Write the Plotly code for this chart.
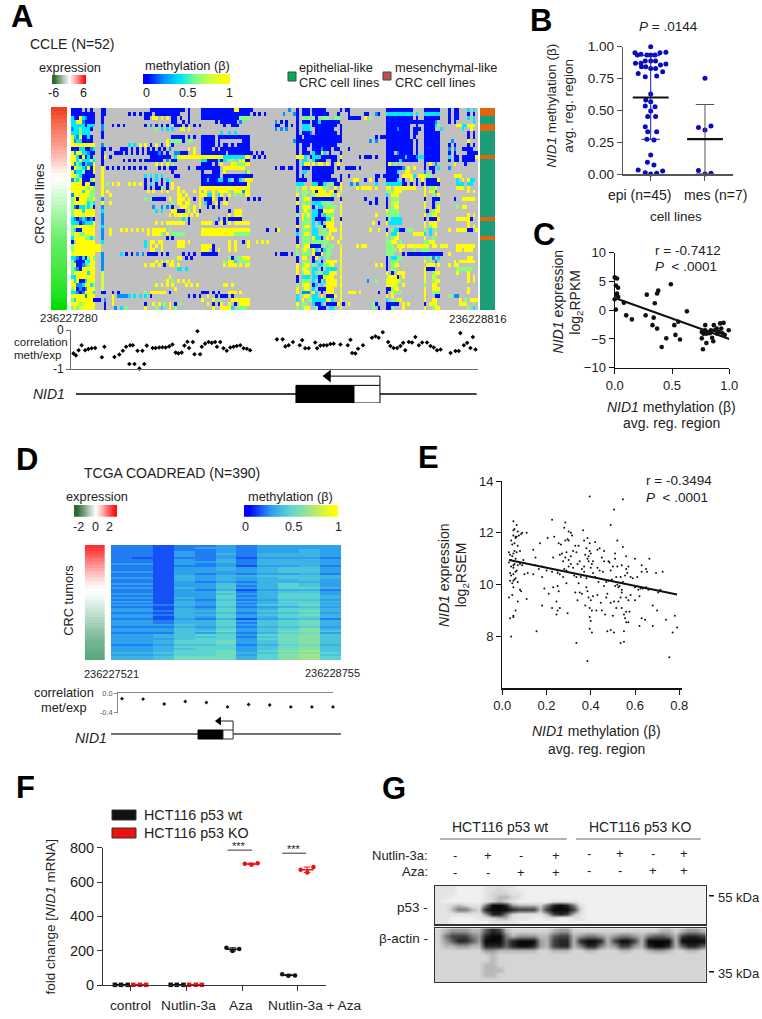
import re
import plotly.graph_objects as go

PAGE_MARGIN = 0
W, H = 762, 1019
FONT = "Liberation Sans"

# ---------- Panel A data ----------
A_LEFT = ["bbbb.b.b.","bbbbbbbbb","cbbycsbbb","ccyysbbbb","cccccbccc","sccgcccb.","cccgccc..","ycsybbcb.","ysccbbbb.","yyyyyyyyy",
"bbbccbbsc","ysyyccsbb","yycbybcbg","yycycccgc","ysgcbcssy","byggcsyby","ysccgbbby","yygcbbbbb","sgcybbbgy","yyyybyybb",
"yyyyyygyg","yyyycyygg","syyyyylgg","gybyyyggy","gyyyyycgc","gsbccgcgb","gyyycyyyy","gyyyyyyyy","csbscsbsb","cccbscccy",
"gyyyyyyyy","gcbbyyyyy","gyyggyyyy","cyyyyggcg","b.yyyyyyy","gyyyyyyyy","gyyyyyyyy","yyyyyyyyy","ccsbcbgyg","gsbbbgcyy",
"gybbscgyl","gcsbyyyyy","gyyyyycyy","ccyyyyyyy","ycybbcyyy","yysscyycg","gybsbsyyy","ccsbsyyyc","yyyyysyyy","gcyyyyyyb",
"yyyglyyyy","gyglyyyyl"]
A_RUNS = [
"11b2 29b13 43b1 48b12 60y2 62b5 80s1 83b1 85b3 89b5 99b1 101b2 116b10 130b6 139b1 141b2 146c1 148c1",
"11b2 21b1 23b1 25b1 27b3 31b9 43b1 48b18 67b1 69b1 71b1 78s1 82s1 83b1 85b3 89b5 94b1 98b1 102b1 108b2 112s1 113b1 116c10 127c1 130c6 139b1 141b2 146b1 148b1",
"11b1 27b2 30y2 33y1 35y1 37b2 40b1 43b1 48b14 62g4 83b1 85g3 89g1 90b1 92g3 97g2 102b5 108y1 110g1 116b10 127b1 130b6 139b1 141b2 146c1 148c1",
"11b1 37b2 41b1 43b1 53b1 55b6 62s1 75s1 77b1 79b1 83b1 85b3 89b2 91c1 92b6 98b1 116b10 126b8 134s1 139b1 141b1 148c1",
"11s1 15b1 17b1 19b1 27b1 29s1 31b1 33b1 35b1 38b3 42b1 45b1 47b1 56b1 59b2 61b1 75b2 79b1 81b1 83b1 85c3 89b5 94b4 99b1 116b9 127b1 130b5 134c1 135g1 142y2 144c2 146y3",
"11s1 31g1 33c1 35c1 37c1 40y2 43y1 75s1 77s1 79s1 83b1 85c3 90b7 99b1 116b9 120s1 126b3 130b4 136c1 144c1 147y1",
"11b1 55c1 58c1 60c1 83b1 85b3 88s1 90b8 99b1 116b9 121b1 126b2 130b6 146b1 148b1",
"11b1 37b5 43b1 45b1 48b5 54b1 55b11 83b2 86b13 99b1 112b1 114b11 126b1 130b6 146b1 148b1",
"35y1 37g4 41b1 43g2 48b5 54b1 63b3 82s1 83b2 85b1 86b14 110s1 112s1 116b10 127b1 130b4 134b2 140s1 146y1",
"11s1 21c1 23c1 25y1 27y1 29b1 31y1 33b1 35y1 37b1 48b5 54b1 56b2 59b1 61b1 62b4 83b1 85b3 89b9 116b10 127b1 130b6 139b1 141b1 146b1 148b1",
"11b2 14b1 18b1 19b2 22b1 24b1 26b1 28b1 30b1 32b1 34b1 36s1 43y1 45y1 48b4 53b1 55b11 83b1 85b2 89b1 90b2 92s1 93b3 97b2 102b1 116b10 127b1 130b6 139s1 141s1 144b4",
"11b1 16b3 20b1 22b1 24b1 26b1 28b4 32s1 33b1 35b1 38s2 40b2 42b1 45y1 48b8 56b1 58b8 66b1 68b1 70b1 83b1 85b3 89c1 90b2 92y1 93c1 95b1 99b1 116b3 120s1 121b5 127b1 130b6 139b1 141b1 146b4",
"11b1 12y1 14b1 29b1 30b3 33b2 35b1 36b1 38c1 39y8 47y1 48y8 56c8 64y2 67b1 69b1 71b1 83y3 86c1 88b1 89c3 92b6 99y1 106b1 108b3 112b1 116b7 123c1 124b2 126b1 127s1 128c2 130b6 139c1 141b2 144b5 149y1",
"11b1 19b1 21b1 23b1 25b1 27b2 29b4 33b1 35s1 37b2 48c2 50b4 54c1 55b1 56c1 58g2 62y2 64b2 83b1 85c2 88g1 89c1 90b4 96b2 99b1 116b5 121c1 122b6 130b6 139b1 141b2 144b5",
"11b1 31y1 33y1 35y1 37g1 48b4 53b1 55y1 59y2 61g3 64y2 83b1 85c1 86y2 89y1 91y1 92y1 94y1 96b1 98y1 116b1 117y1 119g1 130b1 132y1 134s1 141y1 145b1",
"11y1 13b1 15b1 17b1 19b1 21b1 23b1 25b1 27b1 32b1 34b1 36b3 43b1 46b8 54b1 56y8 75b1 77b1 78b1 80b2 83b1 85b3 89b6 95b2 98b1 101b4 106b1 116b6 122s1 124y1 126y1 130b1 132b2 135c1 139s1",
"11y1 37b1 48b1 52b3 56y1 64c1 65y1 83b1 85c2 89b8 116b4 120c1 123y2 130s1 133b1",
"11y1 27c1 29c1 31c1 33c1 38b2 48b7 56b11 83b1 85b1 89b7 99b1 102b1 112b2 115b6 122y4 126c1 128y3 131g2 141y3",
"11y1 27b1 29b1 31c1 33b1 35c1 48b2 50c1 51b3 54c2 56b2 58c1 60b2 62c1 64y1 65y2 83b2 85b2 89b4 93b5 99b1 104y2 108b1 110y1 112b1 116b4 120c1 122b1 125y1 127b1 129y1 131b2 133b2 135y1 142c1 144y1 146y1 147c2",
"11y1 13g1 15y1 17y1 21y1 23y1 25y1 27b1 29c1 31b1 33b1 35b1 37y1 48b10 58b7 65y1 83c3 89c2 91b2 93c1 95g2 97b2 99y1 103s1 105s1 112c1 116c6 122b2 125b1 127b1 129b1 131b2 133b3 142c3 146c2",
"11y1 27b1 29b1 31b2 33g1 35b1 37y1 39y1 47y1 48y8 55y8 63y3 83g1 85y2 88y1 89y4 93g2 97y1 99y1 105y1 107y4 112y1 116y2 119y8 130y1 132g2 134y1 142y3 146y1",
"11y1 13y1 28y1 30y1 33y1 35y1 39y1 41y1 45y1 47y1 49y1 52y1 54y4 58g1 60y3 63s1 64y2 83g1 85g3 89y1 90b1 91y3 95y2 97b1 99l1 116g3 119y3 130y1 132y3 134s1 146y1 148y1",
"11y1 14y1 39y2 42y1 47y2 49y1 50c2 52y1 54c1 55y1 58y1 60g1 62g1 64y2 83y1 85g2 88g2 90y6 96g1 98y1 116c1 118y3 130y1 133g1 135y1",
"11s1 27g1 29g1 30b5 36y1 39y3 43y1 45b1 47y1 49b3 52y1 54b2 57b1 65b1 67b1 69b1 83b1 85g1 86y2 89b7 96b1 99b1 108b1 112b1 116b1 118g3 130b1 133b3 141b1 144y5",
"11y1 14y1 37g1 39y2 42y2 47y1 49c1 50b2 53y2 54b1 56y2 83y1 85g3 89c3 92g4 99l1 110b1 112b1 116b1 118l3 130y1 133b1 135g1",
"11s1 30s1 33s1 35s1 37b1 40y3 43g1 45y1 47y1 50b1 52b1 54b1 83b1 85l1 86y2 89b1 91c2 94g4 99y1 116b1 118g1 119y2 130y1 133b1 135y1 142g1 144y2",
"11c1 31c1 33c1 37y1 38y1 39b3 43y1 45y1 47b1 58b1 60y3 83b1 85g1 86y1 87g1 89c2 91b2 93y4 99l1 116y1 117g2 119g2 131b1 133g1 134y2",
"11s1 36y1 38y5 44y1 46y1 58y1 60y3 83g1 85y1 86g1 87y1 89c2 91b1 93c1 94g3 99y1 112y1 116g3 119g2 130y1 132g1 133y2 146y1 148y1",
"11s1 41c1 43b1 54s1 56b1 58b5 83b1 85y1 86g2 89c1 90b4 94c2 96y1 99b1 116b1 118c4 130b1 132b3 135y1 142y5 147b1",
"11s1 31y1 33y1 35y7 43b1 48y4 53b1 55y1 56b1 58y1 60y6 83b1 85g3 89c1 91c1 92b1 94y3 99y1 111y1 113b1 116y1 117c5 130y1 132y3 134y1 146y1",
"11c1 83y1 85g1 86y2 89c1 91g2 93b1 94y3 99l1 130y1 132g1 133y2 134y1 146y1 148y1",
"11s1 14y1 18y1 20y1 22y1 24y1 26y1 28y1 30y5 36g1 48y18 72b1 75b1 76y1 83b1 85g3 89c2 92g2 95y3 99y1 110y1 113y1 116b1 118g1 119c2 121b2 124g2 130g1 132c1 134g1 139y1 142y4 146b2 149y1",
"11s1 14y1 28y1 30y3 33g1 35y1 37g2 39g3 48y12 60g6 83c1 85g1 86y2 89c2 92g3 95y1 99l1 116y1 118c2 120y1 126y5 130c1 132c1 134y1",
"11s1 35b1 37b1 83b1 85g3 89y1 90c1 91c1 92b1 94y1 96y1 99y1 116g1 118g1 119y2 130y1 133g1",
"11c1 27c1 29y2 32y2 39y3 43y1 58y1 60y1 63b1 65y1 68y1 70y1 72y1 83b1 85g3 89g3 92g3 98y1 116g2 118y2 121g1 130g2 132y2",
"9y2 27c1 29y1 31y1 33y1 39y3 48y4 52b1 58y1 60y1 65y1 83y1 85g1 86y2 88b1 89b3 93g1 95g2 99l1 105y1 107y2 116g3 120y3 124y8 133y2 136y3 142y7",
"9y2 29y2 33y1 48y3 52b1 54y1 58y1 60y1 83g1 85l1 86y1 87g1 89y1 90c1 92b1 93c1 94g2 99y1 116g4 121y1 126g1 129g3 142y2 145y3",
"11s1 18c1 20b1 22b1 24s1 26s1 28b1 29b3 33b1 35b1 41b1 43b1 45b1 48b5 53b1 75b1 77b3 81b1 83g1 85g3 89y1 90b2 92y1 94g2 99y1 116g3 122b1 124b13 139y1",
"11s1 39y2 42b1 44b1 58g2 59b1 61g2 63y3 83b1 85y2 89b1 90y1 92c1 94g1 99l1 116b1 118c2 120g2 130g1 132g1 133s1 135c1 146y2",
"11s1 31y1 33y1 35y1 37y1 56g1 58y3 60c1 62g3 65g1 83b1 85g3 89b1 90c1 92b1 94y4 99y1 116b1 118g3 130y1 132g1 134s1 141y1 143y5 148y1",
"11s1 27y1 29y2 32y1 34b1 36y2 39y1 56y1 58y3 62y1 64y2 83y1 85g1 86y2 89g1 91c2 93g2 95y2 99l1 112y1 114y1 116b1 118g1 119y2 131y3 135y1 139y1 141y2",
"11s1 39c2 42c1 83y1 85l1 86y1 87g1 89c2 92b1 94c4 99y1 116b1 118g2 130y1 131b3 142g6",
"11l1 83y1 85g1 86y2 89c1 91g2 93c2 95y3 99l1 116y1 118b1 120y3 130y1 133g1 134y2 142y1 146y1",
"11l1 36y1 83b1 85c3 89c2 91b2 93y4 99y1 116g1 117y3 120b1 122y1 130y1 133y1 134g1 146y1 148y1",
"11l1 35y1 37g1 39y1 41y1 43y1 83b1 85g3 89c1 91b1 93c1 94y4 99l1 109s1 112g1 116y3 119y2 121g1 130y1 133g1 134y2 146y1 148y1",
"11l1 31y1 33y1 35y1 37y1 42y1 44y1 46y1 56y2 59y1 83g1 85l1 86y2 89b1 90c1 92c1 94y4 99y1 116l1 117y3 120g1 122y1 130g1 133y2",
"11l1 38y1 83y1 85g1 86y1 87l1 89c1 91b2 93b1 94y3 99l1 116b2 118g1 119y2 130y1 133y3 146y1",
"11b2 15b1 17b1 27g1 29y6 36b1 48b3 52b1 54b1 58y3 62y1 83y1 85s3 89y1 90c1 92b1 94y3 99y1 102y3 106y1 113b1 116b1 118y1 119g1 121g1 130y1 133g3 146y1",
"15y1 17s4 21c1 23c1 25c1 27c1 29b1 43b1 45b1 47b1 50y1 53b1 55b3 59b1 83c1 85g1 86y2 89c2 92y1 94b3 97y1 99l1 116y1 118y1 130y1 134b2 139g1 141s2",
"9b2 12s1 15y1 48y1 52y1 54g1 59y7 83c1 85y1 87g2 89c5 94y3 96c1 99y1 116c1 118g3 120y2 130y1 133y1 134y1 143y1 145g1 147y3",
"12b1 15y1 27b1 30y1 32y1 34g1 36y1 38b1 40g1 50y1 52b1 54b1 55y1 58y1 60b1 62y4 83y1 85g2 89c1 90b2 92c1 94b4 98y1 100b1 102y1 111g1 112b1 116b4 120b1 122y1 124y1 130b1 132y3 143y1 144y2 148g1",
"12b1 16s1 18c1 20g1 27y1 31g1 33c1 36y1 38g1 52y1 55y4 59c1 61g3 64g1 83g1 85g1 86y2 90g1 91b3 95c2 99l1 111g1 113b1 116b2 118g1 122y1 130y1 133g1 134y2 146g1 148c1",
]
A_CODES = {"b": 0.02, "s": 0.2, "c": 0.42, "g": 0.62, "l": 0.8, "y": 1.0}
A_EXPR = [6,5.6,5.2,4.8,4.5,4.2,3.9,3.6,3.3,3,2.6,2.3,2,1.6,1.2,.8,.5,.2,-.1,-.3,-.5,-.7,-.9,-1.1,-1.3,-1.5,-1.7,-1.9,-2.1,-2.3,-2.5,-2.7,-2.9,-3.1,-3.3,-3.5,-3.6,-3.7,-3.8,-3.9,-4,-4.2,-4.3,-4.5,-4.6,-4.8,-4.9,-5,-5.2,-5.5,-5.8,-6]
A_MES_ROWS = [0, 1, 4, 5, 12, 28, 33]
A_CORR_POS = [.9,1.8,2.8,3.9,5.2,6.4,7.6,8.9,12.3,11.4,16,17.8,19.1,20.3,21.8,22.8,21.5,23.4,25.2,27,24.5,26.3,27.9,30.1,31.2,32.5,33.7,34.9,36.2,37.4,38.6,39.6,40.8,41.8,42.9,43.5,44.9,45.5,46.6,47.6,48.2,49.4,50.7,51.9,53.1,53.8,55,56.2,57.4,58.7,59.9,61.1,62.4,63.6,64.8,66,75.9,78,79,80.2,81.8,84.3,85.2,86.3,87.6,90,90.7,91.9,93.1,94.3,95.6,96.8,99.3,102,103,103.6,104.8,105.8,107.6,110.9,112.2,113.4,114.9,116.9,117.7,118.9,120.2,121.4,122.4,123.2,124.5,125.7,126.9,128.2,129.4,131.2,132.5,133.7,134.9,136.2,139.9,141.7,142.9,143.5,144.8,146,147.2,148.1,149.1]
A_CORR_VAL = [-.60,-.65,-.52,-.39,-.52,-.49,-.47,-.46,-.43,-.70,-.69,-.63,-.53,-.43,-.39,-.39,-.87,-.87,-.99,-.87,-.53,-.53,-.40,-.46,-.46,-.45,-.44,-.45,-.42,-.37,-.58,-.60,-.58,-.40,-.30,-.46,-.31,-.62,-.03,-.62,-.43,-.35,-.31,-.33,-.31,-.43,-.31,-.47,-.53,-.45,-.43,-.41,-.39,-.47,-.48,-.52,-.24,-.24,-.42,-.39,-.31,-.39,-.26,-.47,-.47,-.32,-.47,-.40,-.39,-.39,-.36,-.35,-.37,-.39,-.25,-.59,-.60,-.48,-.39,-.20,-.16,-.20,-.06,-.31,-.41,-.46,-.46,-.41,-.33,-.52,-.31,-.32,-.18,-.39,-.32,-.32,-.41,-.45,-.52,-.50,-.59,-.54,-.54,-.08,-.39,-.33,-.46,-.18,-.50]
A_START, A_END = 236227280, 236228816
A_GENE = [236227299, 236228811]
A_EXON_CDS = [236228129, 236228348]
A_EXON_UTR = [236228348, 236228446]
A_ARROW_X = [236228446, 236228446, 236228250]

METH_SCALE_VALUES = [0, .1, .2, .3, .4, .5, .6, .7, .8, .9, 1]
EXPR_A_LEG = [-6, -5, -4, -3, -2, -1, 0, 1, 2, 3, 4, 5, 6]

# ---------- Panel B data ----------
B_EPI_VAL = [1.0,.953,.956,.953,.935,.94,.935,.935,.935,.888,.888,.888,.87,.87,.864,.856,.843,.843,.83,.83,.79,.804,.765,.77,.63,.582,.569,.535,.53,.496,.452,.452,.373,.334,.334,.274,.269,.151,.094,.073,.034,.013,.003,.008,.026]
B_EPI_OFF = [0,-.29,.28,.17,-.245,-.18,-.07,0,.08,-.10,0,.09,-.28,-.18,.28,.18,-.17,-.09,0,.09,-.23,.22,-.10,.11,0,-.09,0,-.10,.08,0,-.055,.09,-.10,.11,-.055,-.07,.06,0,-.06,.06,-.23,-.10,0,.11,.22]
B_MES_VAL = [.752,.366,.347,.379,.029,.008,.003]
B_MES_OFF = [0,-.12,0,.11,-.12,.11,0]
B_MEANS = [.602, .275]
B_SDS = [.328, .272]
B_TICKS = [0, .25, .5, .75, 1]

# ---------- Panel C data ----------
C_X = [0,.02,.01,.03,.02,.03,0,.02,.01,.08,.10,.15,.27,.28,.35,.34,.33,.37,.37,.38,.49,.52,.555,.63,.53,.57,.45,.41,.77,.76,.80,.76,.79,.79,.83,.85,.86,.875,.865,.815,.89,.91,.93,.92,.95,.94,.96,.995,.84,.80,.775,.895]
C_Y = [5.7,5.5,4.3,3.9,2.9,2.3,1.9,2.6,.1,1.3,-.9,-1.6,-.9,2.7,1.2,-1.3,-2.6,-3.2,2.9,3.4,4.5,-2.6,-2,-.2,-4.3,-5.1,-4.9,-6.4,-6.8,-4.9,-5.7,-3.8,-3.5,-2.6,-4,-4.8,-5.4,-3.5,-2.6,-3.8,-3.2,-3.8,-3.2,-2.3,-2.2,-4,-4.3,-3.5,-3.5,-4.1,-4.1,-4.1]
C_FIT_X = [.02, 1.0]
C_FIT_Y = [2.0, -5.0]

# ---------- Panel D data ----------
D_ROWS = ["22122323333","22123323333","22122323343","22132323343","22132424443","22132324443","21122313332","22132424443","22133424443","33132324443",
"22122313342","22133434553","22133434553","33133334553","22132323342","22143445554","33143434554","22143434453","22132324443","33133534653",
"22133524653","33143534664","22132413442","22133624553","33133534663","22133624664","33143634664","22132523553","33143634664","22143624563",
"33243635674","22132523453","33143634664","33244635674","22143524563","33244635674","33143634664","22132413452","33244635674","33244625674",
"33354635674","22243524563","33354635684","33355735785","22253524673","33456636785","33455625785","33356636785","33466735785","33466735785",
"22355624674","33466635785","33456635785","33466736895","44566745786","33466736895","44577746896","44577746896"]
D_BASE, D_STEP = 0.06, 0.07
D_EXPR = [2,1.9,1.75,1.6,1.45,1.3,1.15,1,.85,.7,.55,.4,.3,.2,.1,.03,-.05,-.12,-.2,-.3,-.4,-.5,-.6,-.7,-.8,-.9,-1,-1.1,-1.2,-1.3,-1.4,-1.5,-1.6,-1.7,-1.75,-1.8,-1.85,-1.9,-1.95,-2]
D_CORR = [-.11,-.12,-.22,-.17,-.19,-.28,-.23,-.24,-.28,-.28,-.28]
D_START, D_END = 236227521, 236228755
D_EXON_CDS = [236227988, 236228122]
D_EXON_UTR = [236228122, 236228176]
D_ARROW_X = [236228176, 236228176, 236228100]
EXPR_D_LEG = [-2, -1.5, -1, -.5, 0, .5, 1, 1.5, 2]

# ---------- Panel E data ----------
E_POINTS = [(.04,8.0),(.035,8.7),(.05,8.75),(.05,8.8),(.06,9.0),(.03,9.5),(.045,9.6),(.07,9.35),(.11,9.45),(.05,9.9),(.035,10.15),(.045,10.05),(.06,10.25),(.05,10.15),(.07,10.1),(.055,10.2),(.08,9.8),(.085,9.75),(.035,10.45),(.04,10.35),(.05,10.4),(.06,10.5),(.065,10.55),(.05,10.65),(.04,10.7),(.03,10.85),(.04,10.95),(.055,10.8),(.07,10.75),(.08,10.8),(.09,10.75),(.1,10.4),(.115,10.45),(.06,11),(.045,11.1),(.035,11.15),(.03,11.25),(.05,11.2),(.055,11.3),(.065,11.25),(.08,11.3),(.045,11.55),(.055,11.6),(.07,11.5),(.04,11.7),(.06,11.8),(.075,11.9),(.09,12.0),(.11,12.0),(.05,11.9),(.06,11.85),(.07,12.05),(.05,12.1),(.055,12.15),(.05,12.45),(.065,12.3),(.065,11.85),(.085,11.95),(.095,10.95),(.05,10.75),
(.14,10.4),(.14,11.35),(.15,11.05),(.155,8.2),(.17,11.6),(.15,10.75),(.165,10.6),(.18,10.7),(.18,10.3),(.19,9.85),(.18,9.2),(.20,10.55),(.205,11.8),(.21,9.65),(.225,10.5),(.23,9.9),(.225,9.1),(.23,11.05),(.225,12.5),(.235,11.85),(.25,10.45),(.245,9.35),(.25,9.0),(.245,8.85),(.26,9.1),(.255,9.75),(.25,9.95),(.25,10.55),(.255,11.6),(.265,11.55),(.26,11.15),(.27,11.2),(.275,10.9),(.26,10.4),(.275,10.3),(.28,10.6),(.29,10.55),(.285,11.05),(.28,12.2),(.295,11.75),(.30,11.7),(.285,11.7),(.29,11.25),(.30,12.05),(.285,12.4),(.31,12.0),(.295,8.9),(.315,11.9),
(.30,10.7),(.31,10.8),(.32,10.65),(.325,10.35),(.335,10.3),(.30,10.95),(.31,11.1),(.32,11.3),(.33,11.5),(.335,11.25),(.34,10.8),(.345,11.5),(.33,9.7),(.34,9.4),(.35,9.7),(.36,9.65),(.375,9.2),(.37,10.5),(.36,10.6),(.355,10.3),(.38,9.9),(.385,9.75),(.39,9.5),(.38,10.25),(.37,10.7),(.385,11),(.39,11.1),(.395,11.3),(.40,11.2),(.375,11.15),(.39,10.9),(.395,11.6),(.38,11.4),(.37,11.7),(.365,12.1),(.385,11.8),(.40,10.65),(.41,10.45),(.405,10.8),(.41,10.9),(.40,9.4),(.41,9.55),(.395,9.1),(.405,9.0),(.395,8.75),(.40,8.6),(.405,8.15),(.395,8.3),(.335,7.75),(.385,7.05),(.425,9.0),(.43,9.6),(.42,10.3),(.435,10.1),(.445,9.3),(.45,9.0),(.43,11.35),(.42,11.65),(.44,11.4),(.45,11.05),(.46,11.3),(.46,10.9),(.44,10.55),(.455,10.5),(.47,9.5),(.475,9.65),(.465,8.85),
(.475,8.2),(.49,8.25),(.505,8.15),(.50,8.8),(.49,9.3),(.505,9.35),(.515,9.1),(.47,10.1),(.48,10.15),(.495,10.2),(.49,10.55),(.50,10.7),(.48,10.9),(.485,10.85),(.51,11.0),(.51,11.2),(.52,11.7),(.49,12.3),(.505,12.9),(.395,13.4),(.545,13.3),(.515,10.3),(.52,10),(.525,9.9),(.53,9.95),(.54,9.8),(.535,9.5),(.525,9.35),(.54,9.1),(.55,8.85),(.555,8.7),(.56,8.95),(.57,8.55),(.575,8.95),(.55,8.2),(.535,7.75),(.55,7.8),(.56,9.5),(.57,9.4),(.58,9.6),(.545,10.1),(.555,10.35),(.565,10.45),(.54,10.75),(.56,10.6),(.57,10.7),(.545,11.45),(.56,11.1),(.58,10.3),(.6,9.9),
(.59,10.25),(.61,10.3),(.60,11),(.615,9.8),(.625,9.85),(.635,9.85),(.63,10.5),(.65,10.6),(.60,9.4),(.62,9.55),(.655,10.5),(.665,11),(.66,9.8),(.62,8.4),(.63,8.7),(.645,8.65),(.68,9.2),(.70,9.0),(.68,8.4),(.695,10.45),(.705,9.7),(.715,9.8),(.725,10.5),(.74,8.65),(.755,7.2),(.77,8.15),(.78,8.8),(.79,8.35),(.65,9.9),(.63,10.75),(.56,8.55),(.51,9.95),(.52,10.7),(.535,10.3),(.54,9.7),(.43,10.65),(.46,9.95),(.35,10.9),(.345,10.05),(.29,10.05)]
E_FIT_X = [.03, .79]
E_FIT_Y = [10.95, 9.62]

# ---------- Panel F data ----------
F_GROUPS = ["control", "Nutlin-3a", "Aza", "Nutlin-3a + Aza"]
F_WT = [[1, 1, 1], [1, 1, 1], [217, 198, 210], [62, 54, 56]]
F_KO = [[1, 1, 1], [1, 1, 1], [710, 701, 706], [687, 656, 671]]
F_OFFS = [-.28, -.17, -.05]
F_SIG_Y = [786, 768]

# ---------- Panel G data ----------
G_P53 = ["1110000112110","1110000122211","1100000123321","100000012321000001111",
"1123211599843332589851","1135532899987773799972","1111111488521111378731","1100001123311100110011","1100000011110"]
G_ACTIN = ["2344433687322222234422222222222223323443",
"2577754899534443367734554345543566537887",
"2468864999689994378838998379973999939999",
"2334433888689984378835885347743899836886",
"2222222443333332233322332223322344322332",
"2222222232","22222222322","22222223322","22222223332","22222223322","2222222222"]
G_NUT = ["-", "+", "-", "+", "-", "+", "-", "+"]
G_AZA = ["-", "-", "+", "+", "-", "-", "+", "+"]

# ---------- build helpers ----------
layout = dict(width=W, height=H, autosize=False, margin=dict(l=0, r=0, t=0, b=0, pad=0, autoexpand=False),
              paper_bgcolor="white", plot_bgcolor="rgba(0,0,0,0)", showlegend=False,
              font=dict(family=FONT, size=14, color="#222"), annotations=[], shapes=[])
traces = []
counter = [0]


def axes(x0, y0, x1, y1, xr, yr, xa=None, ya=None):
    counter[0] += 1
    i = counter[0]
    s = "" if i == 1 else str(i)
    x0, x1, y0, y1 = x0 - PAGE_MARGIN, x1 - PAGE_MARGIN, y0 - PAGE_MARGIN, y1 - PAGE_MARGIN
    xd = dict(domain=[x0 / W, x1 / W], range=xr, anchor="y" + s, showgrid=False, zeroline=False,
              showticklabels=False, ticks="", showline=False, fixedrange=True)
    yd = dict(domain=[1 - y1 / H, 1 - y0 / H], range=yr, anchor="x" + s, showgrid=False, zeroline=False,
              showticklabels=False, ticks="", showline=False, fixedrange=True)
    xd.update(xa or {})
    yd.update(ya or {})
    layout["xaxis" + s] = xd
    layout["yaxis" + s] = yd
    return "x" + s, "y" + s


def T(x, y, text, size=14, anchor="center", angle=0, color="#222", bold=False):
    if bold:
        text = "<b>" + text + "</b>"
    x, y = x - PAGE_MARGIN, y - PAGE_MARGIN
    layout["annotations"].append(dict(x=x / W, y=1 - y / H, xref="paper", yref="paper", text=text, showarrow=False,
                                      font=dict(size=size, color=color, family=FONT), xanchor=anchor, yanchor="middle",
                                      textangle=angle, align="left"))


def P(x0, y0, x1, y1, fill, line=None):
    x0, x1, y0, y1 = x0 - PAGE_MARGIN, x1 - PAGE_MARGIN, y0 - PAGE_MARGIN, y1 - PAGE_MARGIN
    layout["shapes"].append(dict(type="rect", xref="paper", yref="paper", x0=x0 / W, x1=x1 / W, y0=1 - y1 / H, y1=1 - y0 / H,
                                 fillcolor=fill, line=dict(width=0 if line is None else 1, color=line or fill)))


def rect(ax, x0, x1, y0, y1, fill, line="black", lw=1):
    layout["shapes"].append(dict(type="rect", xref=ax[0], yref=ax[1], x0=x0, x1=x1, y0=y0, y1=y1, fillcolor=fill,
                                 line=dict(width=lw, color=line)))


def heat(ax, z, scale, zmin, zmax, **kw):
    traces.append(go.Heatmap(z=z, colorscale=scale, zmin=zmin, zmax=zmax, showscale=False, xaxis=ax[0], yaxis=ax[1],
                             hoverinfo="skip", **kw))


def scat(ax, x, y, mode="markers", **kw):
    traces.append(go.Scatter(x=x, y=y, mode=mode, xaxis=ax[0], yaxis=ax[1], hoverinfo="skip", cliponaxis=False, **kw))


METH_A = [[0, "#0000ff"], [.2, "#0090ff"], [.42, "#00e8ff"], [.62, "#80ff80"], [.8, "#d0ff40"], [1, "#ffff00"]]
METH_D = [[0, "#0000ff"], [.25, "#2a9cf0"], [.5, "#60d8d0"], [.75, "#b0e878"], [1, "#ffff00"]]
EXPR_BAR_A = [[0, "#00dd00"], [.25, "#70f070"], [.5, "#ffffff"], [.75, "#fb9a8a"], [1, "#f04020"]]
EXPR_LEG_A = [[0, "#2a6a2a"], [.5, "#ffffff"], [1, "#ff1010"]]
EXPR_D = [[0, "#2a6a30"], [.5, "#ffffff"], [1, "#ff1010"]]
EXPR_BAR_D = [[0, "#5aa87f"], [.5, "#ffffff"], [1, "#ff3030"]]

# ---------- Panel A ----------
for lab, x, y in [("A", 22, 17), ("B", 541, 20), ("C", 544, 234), ("D", 27, 459), ("E", 428, 458), ("F", 25, 787), ("G", 394, 788)]:
    T(x, y, lab, size=31, bold=True, color="black")
T(28, 44, "CCLE (N=52)", 14, "left")
T(70, 67, "expression", 12.8)
T(187, 66, "methylation (β)", 12.8)
T(297, 68, "epithelial-like", 12.8, "left")
T(297, 83, "CRC cell lines", 12.8, "left")
T(393, 68, "mesenchymal-like", 12.8, "left")
T(393, 83, "CRC cell lines", 12.8, "left")
P(288, 72, 296, 81, "#00b050", "#444")
P(383, 72, 391, 80, "#c0504d", "#444")
heat(axes(52, 75, 86, 84, [-.5, 12.5], [-.5, .5]), [EXPR_A_LEG], EXPR_LEG_A, -6, 6, zsmooth="best")
heat(axes(143, 74, 230, 84, [-.5, 10.5], [-.5, .5]), [METH_SCALE_VALUES], METH_A, 0, 1, zsmooth="best")
for t, x in [("-6", 53), ("6", 83)]:
    T(x, 93, t, 12.5)
for t, x in [("0", 146), ("0.5", 187), ("1", 229)]:
    T(x, 93, t, 12.5)
T(39, 204, "CRC cell lines", 12.8, angle=-90)

heat(axes(51, 107, 67, 310, [-.5, .5], [51.5, -.5]), [[v] for v in A_EXPR], EXPR_BAR_A, -6, 6)

A_Z = [[None] * 150 for _ in range(52)]
for r in range(52):
    for c, ch in enumerate(A_LEFT[r]):
        if ch != ".":
            A_Z[r][c] = A_CODES[ch]
    for st, code, ln in re.findall(r"(\d+)([bscgly])(\d+)", A_RUNS[r]):
        for c in range(int(st), min(150, int(st) + int(ln))):
            A_Z[r][c] = A_CODES[code]
P(71, 108, 478, 310, "#c0c0c0")
layout["shapes"][-1]["layer"] = "below"
heat(axes(71, 108, 478, 310, [-.5, 149.5], [51.5, -.5]), A_Z, METH_A, 0, 1, hoverongaps=False)

heat(axes(480, 108, 495, 310, [-.5, .5], [51.5, -.5]),
     [[1 if r in A_MES_ROWS else 0] for r in range(52)], [[0, "#1b9e77"], [1, "#e0650f"]], 0, 1)
T(69, 318, "236227280", 11.5)
T(478, 319, "236228816", 11.5)

ax = axes(71, 330, 478, 369, [0, 150], [-1, 0],
          xa=dict(showline=True, linecolor="#666", linewidth=1),
          ya=dict(tickvals=[-1, 0], ticktext=["-1", "0"], showticklabels=True, ticks="outside", ticklen=4, tickcolor="#666",
                  showline=True, linecolor="#666", linewidth=1, tickfont=dict(size=12, color="#222")))
scat(ax, A_CORR_POS, A_CORR_VAL, marker=dict(symbol="diamond", size=3.5, color="black"))
T(40.6, 342, "correlation", 11.5)
T(37.5, 355, "meth/exp", 11.5)

ax = axes(71, 375, 478, 403, [A_START, A_END], [0, 1])
scat(ax, A_GENE, [.32, .32], mode="lines", line=dict(color="black", width=1.5))
rect(ax, A_EXON_CDS[0], A_EXON_CDS[1], 0, .63, "black")
rect(ax, A_EXON_UTR[0], A_EXON_UTR[1], 0, .63, "white")
scat(ax, A_ARROW_X, [.63, .96, .96], mode="lines", line=dict(color="black", width=1))
scat(ax, [A_ARROW_X[2]], [.96], marker=dict(symbol="triangle-left", size=11, color="black"))
T(49, 394, "<i>NID1</i>", 14)

# ---------- Panel B ----------
ax = axes(623, 46.7, 733, 174.3, [-.51, 1.516], [0, 1],
          xa=dict(showline=True, linecolor="#555", linewidth=1.2, ticks="outside", tickvals=[0, 1], ticklen=5, tickcolor="#555"),
          ya=dict(showline=True, linecolor="#555", linewidth=1.2, ticks="outside", ticklen=5, tickcolor="#555", tickvals=B_TICKS,
                  tickformat=".2f", showticklabels=True, tickfont=dict(size=13.5, color="#222")))
scat(ax, [o for o in B_EPI_OFF], B_EPI_VAL, marker=dict(size=5, color="#0a0ac0"))
scat(ax, [1 + o for o in B_MES_OFF], B_MES_VAL, marker=dict(size=5, color="#0a0ac0"))
for i, col in enumerate(["#1a1ad0", "#555555"]):
    m, s = B_MEANS[i], B_SDS[i]
    scat(ax, [i, i, None, i - .17, i + .17, None, i - .17, i + .17], [m - s, m + s, None, m + s, m + s, None, m - s, m - s],
         mode="lines", line=dict(color=col, width=1))
    scat(ax, [i - .33, i + .33], [m, m], mode="lines", line=dict(color="#111", width=2.2))
T(668.7, 27, "<i>P</i> = .0144", 13.5)
T(552, 105.7, "<i>NID1</i> methylation (β)", 13.5, angle=-90)
T(569, 105.7, "avg. reg. region", 13.5, angle=-90)
T(639, 195, "epi (n=45)", 14)
T(715.7, 195, "mes (n=7)", 14)
T(675.7, 216.7, "cell lines", 13.5)

# ---------- Panel C ----------
ax = axes(614.7, 252.7, 729.3, 367.7, [0, 1], [-10, 10],
          xa=dict(showline=True, linecolor="#111", linewidth=1.2, ticks="outside", ticklen=5, tickcolor="#111", tickvals=[0, .5, 1],
                  tickformat=".1f", showticklabels=True, tickfont=dict(size=13, color="#222")),
          ya=dict(showline=True, linecolor="#111", linewidth=1.2, ticks="outside", ticklen=5, tickcolor="#111",
                  tickvals=[-10, -5, 0, 5, 10], showticklabels=True, tickfont=dict(size=13, color="#222")))
scat(ax, C_X, C_Y, marker=dict(size=4.6, color="#111"))
scat(ax, C_FIT_X, C_FIT_Y, mode="lines", line=dict(color="#111", width=2))
T(652.7, 250.7, "r = -0.7412", 13.5, "left")
T(653, 266.7, "<i>P</i>  &lt; .0001", 13.5, "left")
T(557.7, 301.7, "<i>NID1</i> expression", 14, angle=-90)
T(575.7, 302, "log<sub>2</sub>RPKM", 14, angle=-90)
T(671, 406.7, "<i>NID1</i> methylation (β)", 14)
T(671, 423, "avg. reg. region", 14)

# ---------- Panel D ----------
T(81.7, 472.7, "TCGA COADREAD (N=390)", 14, "left")
T(96.7, 496, "expression", 12.8)
T(290.7, 496, "methylation (β)", 12.8)
heat(axes(74, 505, 117, 516.7, [-.5, 8.5], [-.5, .5]), [EXPR_D_LEG], EXPR_D, -2, 2, zsmooth="best")
heat(axes(244, 505, 337.7, 516.7, [-.5, 10.5], [-.5, .5]), [METH_SCALE_VALUES], METH_D, 0, 1, zsmooth="best")
for t, x in [("-2", 78), ("0", 95), ("2", 109), ("0", 245), ("0.5", 293), ("1", 338)]:
    T(x, 527, t, 12.5)
T(69, 600.7, "CRC tumors", 12.8, angle=-90)
heat(axes(84.7, 545, 105, 660, [-.5, .5], [39.5, -.5]), [[v] for v in D_EXPR], EXPR_BAR_D, -2, 2)
D_Z = [[D_BASE + int(ch) * D_STEP for ch in row] for row in D_ROWS]
heat(axes(111, 545, 341, 660, [-.5, 10.5], [len(D_ROWS) - .5, -.5]), D_Z, METH_D, 0, 1)
T(111.7, 674, "236227521", 11)
T(332, 673, "236228755", 11)
ax = axes(118.3, 693.3, 333, 712.7, [-.175, 10], [-.4, 0],
          xa=dict(showline=True, side="top", linecolor="#888", linewidth=1),
          ya=dict(showline=True, linecolor="#888", linewidth=1, ticks="outside", ticklen=3, tickcolor="#888", tickvals=[-.4, 0],
                  ticktext=["-0.4", "0.0"], showticklabels=True, tickfont=dict(size=7.5, color="#555")))
scat(ax, list(range(11)), D_CORR, marker=dict(symbol="diamond", size=3, color="#111"))
T(64, 692, "correlation", 12.8)
T(64, 707.7, "met/exp", 12.8)
ax = axes(111, 718, 341, 743, [D_START, D_END], [0, 1])
scat(ax, [D_START, D_END], [.36, .36], mode="lines", line=dict(color="#444", width=1.4))
rect(ax, D_EXON_CDS[0], D_EXON_CDS[1], .16, .52, "black")
rect(ax, D_EXON_UTR[0], D_EXON_UTR[1], .16, .52, "white", "#333")
scat(ax, D_ARROW_X, [.52, .88, .88], mode="lines", line=dict(color="#222", width=1))
scat(ax, [D_ARROW_X[2]], [.88], marker=dict(symbol="triangle-left", size=8, color="black"))
T(90.7, 738, "<i>NID1</i>", 14)

# ---------- Panel E ----------
ax = axes(502.3, 481, 681.7, 688.3, [0, .811], [6, 14],
          xa=dict(showline=True, linecolor="#111", linewidth=1.2, ticks="outside", ticklen=5, tickcolor="#111",
                  tickvals=[0, .2, .4, .6, .8], tickformat=".1f", showticklabels=True, tickfont=dict(size=13, color="#222")),
          ya=dict(showline=True, linecolor="#111", linewidth=1.2, ticks="outside", ticklen=5, tickcolor="#111",
                  tickvals=[8, 10, 12, 14], showticklabels=True, tickfont=dict(size=13, color="#222")))
scat(ax, [p[0] for p in E_POINTS], [p[1] for p in E_POINTS], marker=dict(size=2, color="#111"))
scat(ax, E_FIT_X, E_FIT_Y, mode="lines", line=dict(color="#111", width=2))
T(644, 480.7, "r = -0.3494", 13.5, "left")
T(644, 497, "<i>P</i>  &lt; .0001", 13.5, "left")
T(444, 575, "<i>NID1</i> expression", 14, angle=-90)
T(462.3, 575, "log<sub>2</sub>RSEM", 14, angle=-90)
T(596, 731, "<i>NID1</i> methylation (β)", 14)
T(596, 749, "avg. reg. region", 14)

# ---------- Panel F ----------
ax = axes(103.3, 847.7, 325.7, 985, [-.488, 3.5], [0, 800],
          xa=dict(showline=True, linecolor="#333", linewidth=1.2, ticks="outside", ticklen=5, tickcolor="#333", tickvals=[0, 1, 2, 3]),
          ya=dict(showline=True, linecolor="#333", linewidth=1.2, ticks="outside", ticklen=5, tickcolor="#333",
                  tickvals=[0, 200, 400, 600, 800], showticklabels=True, tickfont=dict(size=14.5, color="#222")))
for g in range(4):
    for vals, sign, col in [(F_WT[g], -1, "#111111"), (F_KO[g], 1, "#ee1111")]:
        xs = [g + sign * -o if sign > 0 else g + o for o in F_OFFS]
        m = sum(vals) / 3
        lo, hi = min(vals), max(vals)
        scat(ax, [min(xs), max(xs)], [m, m], mode="lines", line=dict(color=col, width=1.5))
        xc = sum(xs) / 3
        scat(ax, [xc, xc, None, xc - .06, xc + .06, None, xc - .06, xc + .06], [lo, hi, None, hi, hi, None, lo, lo], mode="lines",
             line=dict(color=col, width=1))
        scat(ax, xs, vals, marker=dict(size=4.5, symbol="square" if g < 2 else "circle", color=col))
scat(ax, [1.74, 2.18], [F_SIG_Y[0], F_SIG_Y[0]], mode="lines", line=dict(color="#333", width=1))
scat(ax, [2.72, 3.15], [F_SIG_Y[1], F_SIG_Y[1]], mode="lines", line=dict(color="#333", width=1))
T(239.5, 846, "***", 11)
T(293.5, 849, "***", 11)
P(112, 810, 136, 820, "#111111", "#333")
P(112, 828, 136, 838, "#ee1111", "#333")
T(141.7, 815, "HCT116 p53 wt", 14.3, "left")
T(141.7, 833, "HCT116 p53 KO", 14.3, "left")
T(50.7, 916.7, "fold change [<i>NID1</i> mRNA]", 13.5, angle=-90)
for lab, x in zip(F_GROUPS, [130.7, 188.3, 241.3, 315]):
    T(x, 1005.7, lab, 13.7)

# ---------- Panel G ----------
BLOT = [[0, "#f0f0f0"], [.22, "#d6d6d6"], [.6, "#707070"], [1, "#080808"]]
p53 = [[int(c) for c in row.ljust(40, "0")] for row in G_P53]
act = [[int(c) for c in row.ljust(40, "2")] for row in G_ACTIN]
frame = dict(showline=True, mirror=True, linecolor="#333", linewidth=1.2)
heat(axes(435, 886, 705.7, 924.3, [-.5, 39.5], [8.5, -.5], xa=frame, ya=frame), p53, BLOT, 0, 9, zsmooth="best")
heat(axes(435, 928.3, 705.7, 982, [-.5, 39.5], [10.5, -.5], xa=frame, ya=frame), act, BLOT, 0, 9, zsmooth="best")
T(500, 827, "HCT116 p53 wt", 14)
T(640, 827, "HCT116 p53 KO", 14)
P(440, 838.5, 566.7, 839.5, "#666")
P(576, 838.5, 700.7, 839.5, "#666")
T(430, 855, "Nutlin-3a:", 13, "right")
T(430, 871, "Aza:", 13, "right")
G_LANE_PX = [455, 487.7, 521, 555.7, 589, 620, 652.7, 684]
for i, px in enumerate(G_LANE_PX):
    dy = 0 if i < 4 else -2
    T(px, 855.5 + dy, G_NUT[i], 13)
    T(px, 872.5 + dy, G_AZA[i], 13)
T(430, 907, "p53 -", 13.5, "right")
T(430, 938, "β-actin -", 13.5, "right")
P(709, 895, 714, 896.5, "#111")
P(709, 971, 714, 972.5, "#111")
T(716, 897.7, "55 kDa", 13, "left")
T(716, 973, "35 kDa", 13, "left")

fig = go.Figure(data=traces, layout=layout)
fig.write_html("out.html", config=dict(displayModeBar=False, staticPlot=True),
               post_script="document.body.style.margin='0';document.documentElement.style.overflow='hidden';")
